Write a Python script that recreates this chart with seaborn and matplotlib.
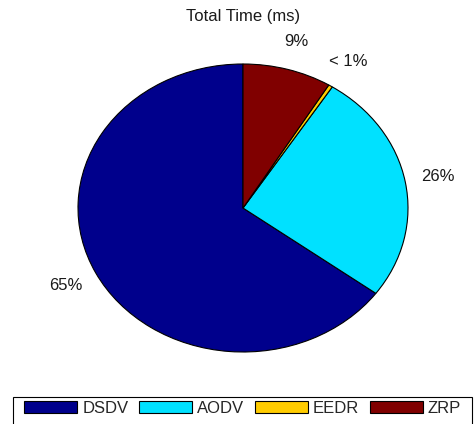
import matplotlib
matplotlib.use("Agg")
import matplotlib.pyplot as plt
from matplotlib.patches import Rectangle
import seaborn as sns

# Share of total time per routing protocol (percent)
protocols = ["DSDV", "AODV", "EEDR", "ZRP"]
total_time_share = [64.9, 26.0, 0.4, 8.7]
slice_labels = ["65%", "26%", "< 1%", "9%"]
slice_colors = ["#00008C", "#00E1FF", "#FFCC00", "#800000"]

sns.set_theme(style="white")
plt.rcParams["font.family"] = ["Liberation Sans", "DejaVu Sans"]

W, H = 475, 424
FS = 12
fig = plt.figure(figsize=(W / 100, H / 100), dpi=100)
# pie axes spans the elliptical pie body
ax = fig.add_axes([78 / W, 1 - 352 / H, 330 / W, 288 / H])

wedges, texts = ax.pie(
    total_time_share,
    labels=slice_labels,
    colors=slice_colors,
    startangle=90,
    counterclock=True,
    labeldistance=1.2,
    wedgeprops=dict(edgecolor="black", linewidth=0.8),
    textprops=dict(fontsize=FS, color="#1a1a1a"),
)
for t in texts:
    t.set_ha("center")
    t.set_va("center")
ax.set_aspect("auto")
ax.set_xlim(-1, 1)
ax.set_ylim(-1, 1)

fig.text(243 / W, 1 - 17 / H, "Total Time (ms)", ha="center", va="center",
         fontsize=FS, color="#1a1a1a")

# legend box along the bottom edge
fig.patches.append(Rectangle((13 / W, -0.01), (472 - 13) / W, 0.01 + (424 - 397) / H,
                             transform=fig.transFigure, facecolor="white",
                             edgecolor="black", linewidth=0.8, zorder=0))

leg = fig.legend(
    wedges, protocols,
    loc="upper left",
    bbox_to_anchor=(24 / W, 1 - 401 / H),
    ncol=4,
    frameon=False,
    fontsize=FS,
    handlelength=3.2,
    handleheight=0.72,
    handletextpad=0.3,
    columnspacing=0.62,
    borderpad=0,
    borderaxespad=0,
)
for h in leg.legend_handles:
    h.set_linewidth(0.8)

fig.savefig("out.png", dpi=100)
